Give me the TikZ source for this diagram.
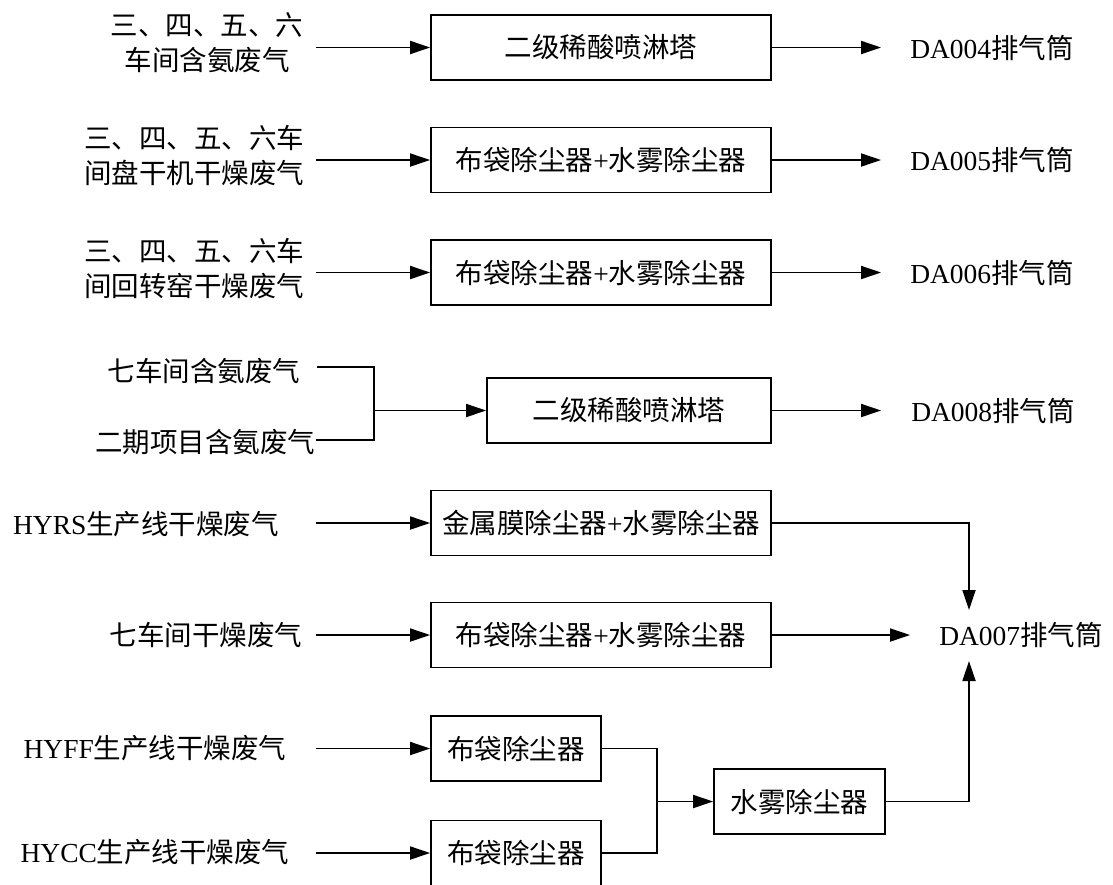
\documentclass[tikz,border=0pt]{standalone}
\usepackage{fontspec}
\setmainfont{Liberation Serif}
\newfontfamily\cjk{Noto Sans CJK SC}
\usetikzlibrary{arrows.meta}
\begin{document}
\begin{tikzpicture}[x=1pt,y=-1pt,
  box/.style={draw,line width=1.8pt,inner sep=0pt,minimum height=65pt,font=\fontsize{27.5}{35}\selectfont\cjk},
  lbl/.style={inner sep=0pt,align=center,font=\fontsize{27.5}{35}\selectfont\cjk},
  outl/.style={inner sep=0pt,font=\fontsize{27.5}{35}\selectfont},
  arr/.style={line width=1.8pt,-{Triangle[length=20pt,width=13pt]}},
  ln/.style={line width=1.8pt}]
\useasboundingbox (0,0) rectangle (1113,884);
\clip (0,0) rectangle (1113,884);
% input labels
\node[lbl] (l1) at (207,43) {三、四、五、六\\车间含氨废气};
\node[lbl] (l2) at (194,156) {三、四、五、六车\\间盘干机干燥废气};
\node[lbl] (l3) at (194,269) {三、四、五、六车\\间回转窑干燥废气};
\node[lbl] (l4a) at (204,371) {七车间含氨废气};
\node[lbl] (l4b) at (205,442) {二期项目含氨废气};
\node[lbl] (l5) at (146,524) {{\rmfamily HYRS}生产线干燥废气};
\node[lbl] (l6) at (206,635) {七车间干燥废气};
\node[lbl] (l7) at (155,748) {{\rmfamily HYFF}生产线干燥废气};
\node[lbl] (l8) at (155,852) {{\rmfamily HYCC}生产线干燥废气};
% boxes
\node[box,minimum width=340pt] (b1) at (601,47.5) {二级稀酸喷淋塔};
\node[box,minimum width=340pt] (b2) at (601,160) {布袋除尘器{\rmfamily +}水雾除尘器};
\node[box,minimum width=340pt] (b3) at (601,272.5) {布袋除尘器{\rmfamily +}水雾除尘器};
\node[box,minimum width=284pt] (b4) at (629,410.5) {二级稀酸喷淋塔};
\node[box,minimum width=340pt] (b5) at (601,523) {金属膜除尘器{\rmfamily +}水雾除尘器};
\node[box,minimum width=340pt] (b6) at (601,635) {布袋除尘器{\rmfamily +}水雾除尘器};
\node[box,minimum width=170pt] (b7) at (516,748.5) {布袋除尘器};
\node[box,minimum width=170pt] (b8) at (516,853) {布袋除尘器};
\node[box,minimum width=171pt] (w) at (799.5,801.5) {水雾除尘器};
% outputs
\node[outl] (da4) at (992,47.5) {DA004{\cjk 排气筒}};
\node[outl] (da5) at (992,160) {DA005{\cjk 排气筒}};
\node[outl] (da6) at (992,272.5) {DA006{\cjk 排气筒}};
\node[outl] (da8) at (993,410.5) {DA008{\cjk 排气筒}};
\node[outl] (da7) at (1021,635) {DA007{\cjk 排气筒}};
% free ends
\coordinate (s1) at (316,47.5);
\coordinate (s2) at (316,160);
\coordinate (s3) at (316,272.5);
\coordinate (t4a) at (317,367);
\coordinate (t4b) at (316,440);
\coordinate (j4) at (374,410.5);
\coordinate (s5) at (316,523);
\coordinate (s6) at (316,635);
\coordinate (s7) at (316,748.5);
\coordinate (s8) at (316,853);
\coordinate (mj) at (657,801.5);
\coordinate (j1) at (969,610);
\coordinate (j2) at (969,661);
% connectors
\draw[arr] (s1) -- (b1.west);
\draw[arr] (s2) -- (b2.west);
\draw[arr] (s3) -- (b3.west);
\draw[ln] (t4a) -| (j4);
\draw[ln] (t4b) -| (j4);
\draw[arr] (j4) -- (b4.west);
\draw[arr] (s5) -- (b5.west);
\draw[arr] (s6) -- (b6.west);
\draw[arr] (s7) -- (b7.west);
\draw[arr] (s8) -- (b8.west);
\draw[arr,shorten >=29pt] (b1.east) -- (da4.west);
\draw[arr,shorten >=29pt] (b2.east) -- (da5.west);
\draw[arr,shorten >=29pt] (b3.east) -- (da6.west);
\draw[arr,shorten >=30pt] (b4.east) -- (da8.west);
\draw[arr,shorten >=29pt] (b6.east) -- (da7.west);
\draw[arr] (b5.east) -| (j1);
\draw[ln] (b7.east) -| (mj);
\draw[ln] (b8.east) -| (mj);
\draw[arr] (mj) -- (w.west);
\draw[arr] (w.east) -| (j2);
\end{tikzpicture}
\end{document}
